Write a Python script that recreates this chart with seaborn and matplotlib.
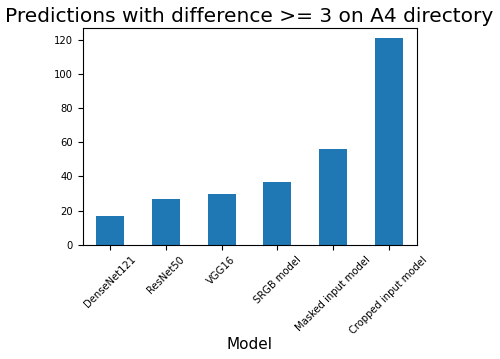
import matplotlib
matplotlib.use("Agg")
from matplotlib import pyplot as plt
import pandas as pd
import seaborn as sns

sns.set_style("ticks")
plt.rcParams["font.family"] = "DejaVu Sans"
plt.rcParams["text.color"] = "black"
plt.rcParams["axes.labelcolor"] = "black"
plt.rcParams["xtick.color"] = "black"
plt.rcParams["ytick.color"] = "black"

models = ["DenseNet121", "ResNet50", "VGG16", "SRGB model", "Masked input model", "Cropped input model"]
counts = [17, 27, 30, 37, 56, 121]

df = pd.DataFrame({"Model": models, "count": counts})

fig = plt.figure(figsize=(5.0, 3.59), dpi=100)
ax = fig.add_axes([0.165, 0.318, 0.668, 0.605])
sns.barplot(data=df, x="Model", y="count", color="#1f77b4", saturation=1, width=0.5, linewidth=0, ax=ax)

ax.set_title("Predictions with difference >= 3 on A4 directory", fontsize=14.5, pad=4)
ax.set_xlabel("Model", fontsize=11, labelpad=1)
ax.set_ylabel("")
ax.set_ylim(0, 127)
ax.set_xlim(-0.5, 5.5)
ax.set_yticks(range(0, 121, 20))
plt.xticks(rotation=45, fontsize=7.2)
plt.yticks(fontsize=7.2)
for s in ax.spines.values():
    s.set_color("black")
    s.set_linewidth(0.8)

plt.savefig("out.png", dpi=100)
plt.close()
